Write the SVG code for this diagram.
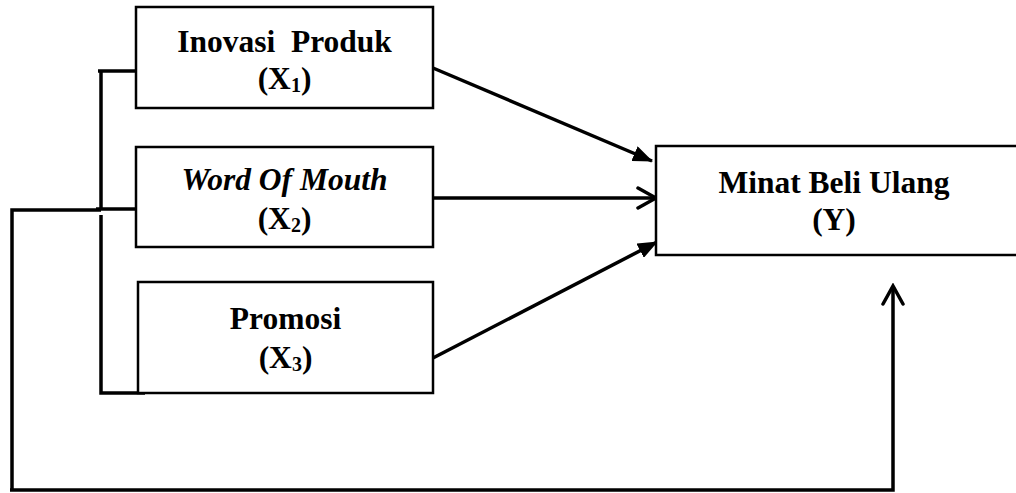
<svg xmlns="http://www.w3.org/2000/svg" width="1016" height="493" viewBox="0 0 1016 493">
<style>
.box{fill:#fff;stroke:#000;stroke-width:2.5}
.ln{fill:none;stroke:#000;stroke-width:3.5;stroke-linecap:butt}
.t{font-family:"Liberation Serif","Times New Roman",serif;font-weight:bold;font-size:31.5px;text-anchor:middle;fill:#000}
.sub{font-size:20px}
</style>
<defs>
<marker id="fill" viewBox="0 0 20 16" refX="19" refY="8" markerWidth="20" markerHeight="16" markerUnits="userSpaceOnUse" orient="auto">
<path d="M0,0 L20,8 L0,16 Z" fill="#000"/>
</marker>
<marker id="open" viewBox="0 0 24 24" refX="21" refY="12" markerWidth="24" markerHeight="24" markerUnits="userSpaceOnUse" orient="auto">
<path d="M3,2 L21,12 L3,22" fill="none" stroke="#000" stroke-width="3.5" stroke-linecap="round" stroke-linejoin="miter"/>
</marker>
</defs>
<g id="connectors">
<path class="ln" d="M98,71 H136"/>
<path class="ln" d="M101,71 V209"/>
<path class="ln" d="M101,215 V393 H145"/>
<path class="ln" d="M96,209 H136"/>
<path class="ln" d="M12,490 V210 H101"/>
<path class="ln" d="M10,490 H893 V286" marker-end="url(#open)"/>
<path class="ln" d="M433,68 L652,161" marker-end="url(#fill)"/>
<path class="ln" d="M433,198 L656,198" marker-end="url(#open)"/>
<path class="ln" d="M433,358 L657,242" marker-end="url(#fill)"/>
</g>
<g id="node-x1">
<rect class="box" x="136" y="7" width="297" height="101"/>
<text class="t" x="284.5" y="52">Inovasi&#160; Produk</text>
<text class="t" x="284.5" y="89">(X<tspan class="sub" dy="3">1</tspan><tspan dy="-3">)</tspan></text>
</g>
<g id="node-x2">
<rect class="box" x="136" y="147" width="297" height="100"/>
<text class="t" x="284.5" y="190" font-style="italic">Word Of Mouth</text>
<text class="t" x="284.5" y="229">(X<tspan class="sub" dy="3">2</tspan><tspan dy="-3">)</tspan></text>
</g>
<g id="node-x3">
<rect class="box" x="138" y="282" width="295" height="111"/>
<text class="t" x="285.5" y="329">Promosi</text>
<text class="t" x="285.5" y="368">(X<tspan class="sub" dy="3">3</tspan><tspan dy="-3">)</tspan></text>
</g>
<g id="node-y">
<rect class="box" x="656" y="146" width="370" height="109"/>
<text class="t" x="834" y="193">Minat Beli Ulang</text>
<text class="t" x="834" y="230">(Y)</text>
</g>
</svg>
